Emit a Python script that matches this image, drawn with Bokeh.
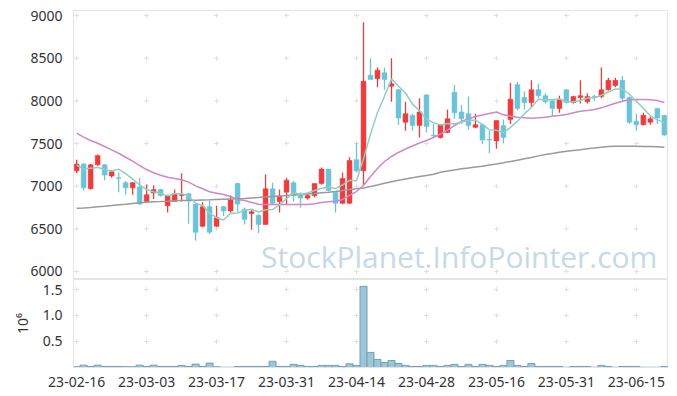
from bokeh.plotting import figure
from bokeh.layouts import column
from bokeh.models import FixedTicker, PrintfTickFormatter, Range1d, Label, ColumnDataSource
from bokeh.embed import file_html
from bokeh.resources import INLINE

# ---- data ----
opens = [7180, 7260, 6970, 7250, 7250, 7120, 7100, 7040, 6980, 6990,
         6820, 6920, 6960, 6770, 6820, 6890, 6910, 6790, 6530, 6760,
         6530, 6760, 6710, 7030, 6730, 6680, 6660, 6550, 6970, 6820,
         6930, 7040, 6900, 6860, 6890, 7030, 7200, 6930, 6800, 6800,
         7310, 7180, 8300, 8260, 8330, 8170, 8130, 7750, 7830, 7710,
         8070, 7600, 7570, 7630, 8100, 7870, 7850, 7690, 7720, 7550,
         7530, 7710, 7780, 8190, 8040, 7980, 8130, 8060, 8000, 7910,
         8130, 7980, 8040, 7990, 8050, 8050, 8130, 8180, 8240, 8040,
         7760, 7720, 7750, 7910, 7830]
highs = [7310, 7270, 7260, 7370, 7260, 7180, 7160, 7060, 7050, 7100,
         7020, 7010, 6970, 6900, 6960, 7150, 6920, 6790, 6810, 6830,
         6770, 6770, 6890, 7040, 6750, 6730, 6670, 7140, 7040, 6960,
         7100, 7060, 6930, 6910, 7030, 7220, 7200, 6930, 7160, 7340,
         7510, 8920, 8500, 8390, 8390, 8500, 8140, 7990, 7850, 8030,
         8080, 7730, 7730, 7900, 8190, 7950, 8050, 7850, 7730, 7650,
         7770, 7780, 8210, 8220, 8110, 8240, 8200, 8090, 8010, 8060,
         8140, 8060, 8240, 8090, 8070, 8390, 8270, 8270, 8290, 8050,
         7850, 7860, 7820, 7920, 7830]
lows = [7150, 6950, 6960, 7240, 7070, 7100, 6930, 6900, 6900, 6780,
        6810, 6850, 6880, 6690, 6820, 6820, 6560, 6360, 6520, 6440,
        6520, 6650, 6690, 6700, 6550, 6490, 6450, 6550, 6790, 6690,
        6790, 6820, 6750, 6840, 6870, 7020, 6940, 6690, 6790, 6790,
        7160, 7010, 8250, 8160, 8130, 7990, 7720, 7650, 7650, 7570,
        7630, 7580, 7560, 7620, 7790, 7730, 7660, 7680, 7490, 7390,
        7440, 7500, 7730, 7890, 7900, 7920, 8030, 7970, 7820, 7860,
        7970, 7970, 7970, 7970, 8000, 8030, 8120, 8160, 8000, 7730,
        7650, 7710, 7720, 7730, 7590]
closes = [7260, 6980, 7250, 7360, 7130, 7170, 7090, 6980, 7040, 6790,
          6900, 6960, 6890, 6890, 6910, 6900, 6840, 6460, 6760, 6460,
          6630, 6710, 6840, 6790, 6610, 6700, 6550, 6970, 6800, 6880,
          7070, 6900, 6860, 6890, 7030, 7200, 6950, 6800, 7090, 7300,
          7180, 8230, 8250, 8360, 8250, 8200, 7800, 7850, 7710, 7870,
          7700, 7590, 7720, 7790, 7860, 7790, 7710, 7720, 7540, 7540,
          7770, 7570, 8020, 7910, 7980, 8130, 8060, 7990, 7910, 8020,
          7980, 8050, 8060, 8050, 8040, 8130, 8240, 8240, 8030, 7750,
          7720, 7830, 7790, 7800, 7600]
ma5 = [7250, 7200, 7210, 7220, 7196, 7178, 7200, 7146, 7082, 7014,
       6960, 6934, 6916, 6886, 6910, 6910, 6886, 6800, 6774, 6684,
       6630, 6604, 6680, 6686, 6716, 6730, 6698, 6724, 6726, 6780,
       6854, 6924, 6902, 6920, 6950, 6976, 6986, 6974, 7014, 7068,
       7064, 7320, 7610, 7864, 8054, 8258, 8172, 8092, 7962, 7886,
       7786, 7744, 7718, 7734, 7732, 7750, 7774, 7774, 7724, 7660,
       7656, 7628, 7688, 7762, 7850, 7922, 8020, 8014, 8014, 8022,
       7992, 7990, 8004, 8032, 8036, 8066, 8104, 8140, 8136, 8078,
       7996, 7914, 7824, 7778, 7748]
ma20 = [7621, 7574, 7535, 7503, 7465, 7426, 7386, 7339, 7293, 7242,
        7195, 7157, 7128, 7105, 7090, 7075, 7047, 7004, 6969, 6934,
        6918, 6902, 6879, 6844, 6832, 6809, 6789, 6785, 6785, 6785,
        6785, 6785, 6785, 6785, 6793, 6809, 6817, 6824, 6844, 6891,
        6937, 7008, 7113, 7207, 7289, 7348, 7395, 7436, 7471, 7506,
        7535, 7570, 7611, 7658, 7711, 7758, 7787, 7816, 7834, 7852,
        7869, 7836, 7820, 7808, 7801, 7796, 7801, 7808, 7820, 7828,
        7840, 7860, 7878, 7887, 7898, 7918, 7945, 7972, 7996, 8012,
        8016, 8016, 8012, 8004, 7980]
ma60 = [6742, 6744, 6750, 6758, 6765, 6773, 6782, 6789, 6797, 6805,
        6812, 6817, 6820, 6824, 6829, 6832, 6832, 6836, 6838, 6840,
        6844, 6847, 6850, 6852, 6855, 6861, 6867, 6873, 6879, 6885,
        6891, 6896, 6902, 6908, 6914, 6922, 6929, 6937, 6949, 6961,
        6969, 6979, 6996, 7014, 7034, 7052, 7069, 7085, 7099, 7113,
        7126, 7140, 7164, 7177, 7189, 7203, 7214, 7225, 7234, 7247,
        7260, 7274, 7289, 7305, 7321, 7337, 7355, 7371, 7384, 7397,
        7410, 7419, 7428, 7438, 7447, 7457, 7465, 7467, 7468, 7468,
        7467, 7466, 7465, 7461, 7457]
volume_k = [15, 45, 20, 45, 20, 20, 20, 15, 15, 45,
            20, 45, 20, 20, 20, 40, 20, 65, 20, 85,
            15, 5, 5, 20, 20, 20, 20, 20, 120, 20,
            20, 60, 40, 20, 20, 40, 40, 40, 20, 70,
            40, 1560, 290, 155, 95, 135, 77, 40, 20, 20,
            40, 40, 20, 40, 60, 20, 60, 20, 60, 40,
            20, 40, 135, 40, 20, 77, 20, 20, 20, 20,
            5, 20, 20, 20, 5, 40, 20, 5, 20, 20,
            20, 5, 5, 5, 20]
tick_idx = [0, 10, 20, 30, 40, 50, 60, 70, 80]
tick_labels = ["23-02-16", "23-03-03", "23-03-17", "23-03-31", "23-04-14",
               "23-04-28", "23-05-16", "23-05-31", "23-06-15"]
price_ticks = [6000, 6500, 7000, 7500, 8000, 8500, 9000]
vol_ticks = [0.5, 1.0, 1.5]

RED = "#ee3b3b"
BLUE = "#6cc3d8"
FONT = "Noto Sans"
FS = "14px"
TXT = "#333333"
LIGHT = "#e4e4e4"

n = len(closes)
idx = list(range(n))
up = [c >= o for o, c in zip(opens, closes)]
src = ColumnDataSource(dict(
    x=idx, o=opens, h=highs, l=lows, c=closes,
    top=[max(o, c) for o, c in zip(opens, closes)],
    bot=[min(o, c) for o, c in zip(opens, closes)],
    col=[RED if u else BLUE for u in up],
    ma5=ma5, ma20=ma20, ma60=ma60,
    vol=[v / 1000.0 for v in volume_k],
))

xr = Range1d(-0.45, 84.45)

p = figure(width=677, height=279, x_range=xr, y_range=Range1d(5906, 9059),
           output_backend="svg", toolbar_location=None,
           min_border_left=73, min_border_right=10, min_border_top=10, min_border_bottom=0)
p.xaxis.visible = False
p.grid.grid_line_color = None
p.outline_line_color = LIGHT
p.background_fill_color = "white"
p.border_fill_color = "white"
ya = p.yaxis[0]
ya.ticker = FixedTicker(ticks=price_ticks)
ya.major_tick_line_color = None
ya.minor_tick_line_color = None
ya.axis_line_color = LIGHT
ya.major_label_text_font = FONT
ya.major_label_text_font_size = FS
ya.major_label_text_color = TXT
ya.major_label_standoff = 5

# grid crosses at tick intersections
gx = [t for t in tick_idx for _ in price_ticks]
gy = [v for _ in tick_idx for v in price_ticks]
p.scatter(gx, gy, marker="cross", size=5, line_color="#e0e0e0", line_width=1)

wm = Label(x=83, y=6180, text="StockPlanet.InfoPointer.com", text_align="right",
           text_baseline="middle", text_font="Open Sans", text_font_size="30px",
           text_color="#c7d9e4")
p.add_layout(wm)

p.segment(x0="x", y0="l", x1="x", y1="h", color="col", line_width=1.3, source=src)
p.vbar(x="x", width=0.7, top="top", bottom="bot", fill_color="col", line_color="col",
       line_width=0.5, source=src)

p.line("x", "ma60", source=src, line_color="#9a9a9a", line_width=1.5)
p.line("x", "ma20", source=src, line_color="#cc88c8", line_width=1.5)
p.line("x", "ma5", source=src, line_color="#8fcfc3", line_width=1.5)

v = figure(width=677, height=117, x_range=xr, y_range=Range1d(0, 1.692),
           output_backend="svg", toolbar_location=None,
           min_border_left=73, min_border_right=10, min_border_top=0, min_border_bottom=29)
v.grid.grid_line_color = None
v.outline_line_color = LIGHT
vx = [t for t in tick_idx for _ in vol_ticks]
vy = [val for _ in tick_idx for val in vol_ticks]
v.scatter(vx, vy, marker="cross", size=5, line_color="#e0e0e0", line_width=1)
v.vbar(x="x", width=1.0, top="vol", bottom=0, fill_color="#9cc6d6", line_color="#6fa2b8",
       line_width=1, source=src)

xa = v.xaxis[0]
xa.ticker = FixedTicker(ticks=tick_idx)
xa.major_label_overrides = {t: lab for t, lab in zip(tick_idx, tick_labels)}
xa.major_tick_line_color = None
xa.minor_tick_line_color = None
xa.axis_line_color = LIGHT
xa.major_label_text_font = FONT
xa.major_label_text_font_size = FS
xa.major_label_text_color = TXT
xa.major_label_standoff = 3

vy_ax = v.yaxis[0]
vy_ax.ticker = FixedTicker(ticks=vol_ticks)
vy_ax.formatter = PrintfTickFormatter(format="%.1f")
vy_ax.major_tick_line_color = None
vy_ax.minor_tick_line_color = None
vy_ax.axis_line_color = LIGHT
vy_ax.major_label_text_font = FONT
vy_ax.major_label_text_font_size = FS
vy_ax.major_label_text_color = TXT
vy_ax.major_label_standoff = 5
vy_ax.axis_label = "10⁶"
vy_ax.axis_label_text_font = FONT
vy_ax.axis_label_text_font_size = FS
vy_ax.axis_label_text_font_style = "normal"
vy_ax.axis_label_text_color = TXT
vy_ax.axis_label_standoff = 8

layout = column(p, v, spacing=0)
open("out.html", "w").write(file_html(layout, INLINE))
